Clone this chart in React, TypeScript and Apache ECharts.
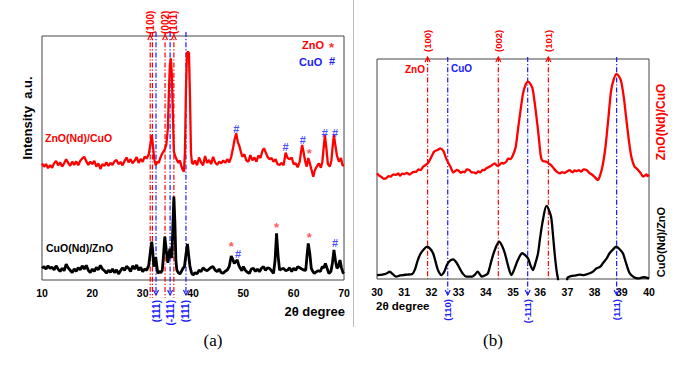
import { useEffect, useRef } from 'react';
import * as echarts from 'echarts';

// ---------- Panel (a): 2θ 10–70 ----------
const leftRed: [number, number][] = [
  [10, 47.8], [10.4, 46.4], [10.8, 47.5], [11.2, 45.8], [11.6, 47.1], [12, 46.0], [12.4, 47.8], [12.8, 48.8],
  [13.2, 47.0], [13.6, 48.2], [14, 46.5], [14.4, 47.8], [14.8, 49.5], [15.2, 48.0], [15.6, 46.8], [16, 48.5],
  [16.4, 47.2], [16.8, 48.6], [17.2, 47.0], [17.6, 48.9], [18, 49.8], [18.4, 50.5], [18.8, 48.6], [19.2, 47.2],
  [19.6, 48.5], [20, 47.5], [20.4, 48.8], [20.8, 46.5], [21.2, 47.8], [21.6, 45.5], [22, 47.5], [22.4, 46.8],
  [22.8, 48.2], [23.2, 46.8], [23.6, 48.0], [24, 47.2], [24.4, 48.6], [24.8, 49.2], [25.2, 47.5], [25.6, 48.4],
  [26, 47.0], [26.4, 48.8], [26.8, 50.2], [27.2, 48.2], [27.6, 49.5], [28, 47.8], [28.4, 48.9], [28.8, 50.4],
  [29.2, 48.0], [29.6, 49.6], [30, 48.4], [30.4, 50.6], [30.8, 49.8], [31.2, 51.5], [31.5, 55.0], [31.8, 59.4],
  [32.0, 56.0], [32.3, 49.5], [32.6, 47.0], [32.9, 48.5], [33.2, 48.0], [33.5, 50.0], [33.8, 51.5], [34.1, 52.5],
  [34.4, 53.5], [34.7, 55.5], [35.0, 62.0], [35.2, 76.0], [35.4, 88.0], [35.6, 90.9], [35.8, 84.0], [36.0, 68.0],
  [36.2, 52.6], [36.5, 50.5], [36.8, 49.2], [37.1, 48.0], [37.4, 49.0], [37.7, 46.5], [38.0, 45.0], [38.2, 44.4],
  [38.4, 52.0], [38.6, 78.0], [38.8, 93.0], [39.0, 93.6], [39.2, 92.9], [39.4, 75.0], [39.6, 52.0], [39.8, 48.0],
  [40.0, 47.5], [40.4, 49.0], [40.8, 47.0], [41.2, 50.2], [41.6, 48.2], [42, 47.0], [42.4, 50.8], [42.8, 48.0],
  [43.2, 49.2], [43.6, 47.5], [44, 50.5], [44.4, 48.2], [44.8, 47.2], [45.2, 48.5], [45.6, 47.8], [46, 49.0],
  [46.4, 48.0], [46.8, 49.5], [47.2, 48.2], [47.6, 50.5], [48.0, 54.6], [48.3, 58.0], [48.6, 60.1], [48.9, 56.5],
  [49.2, 55.0], [49.5, 52.6], [49.8, 50.5], [50.2, 51.5], [50.6, 49.0], [51, 48.5], [51.4, 51.2], [51.8, 49.0],
  [52.2, 50.2], [52.6, 48.5], [53, 51.0], [53.4, 50.0], [53.8, 53.0], [54.1, 54.0], [54.4, 52.5], [54.8, 50.5],
  [55.2, 49.5], [55.6, 50.0], [56, 48.5], [56.4, 49.5], [56.8, 47.5], [57.2, 47.1], [57.6, 48.0], [58.0, 47.0],
  [58.4, 52.2], [58.8, 50.0], [59.2, 49.5], [59.6, 50.2], [60.0, 47.5], [60.4, 47.8], [60.8, 46.2], [61.2, 48.5],
  [61.5, 53.0], [61.7, 55.3], [62.0, 52.0], [62.3, 48.5], [62.6, 46.5], [62.9, 50.0], [63.2, 48.0], [63.5, 45.5],
  [63.9, 42.3], [64.2, 45.0], [64.6, 46.5], [65.0, 47.8], [65.4, 46.0], [65.7, 48.5], [66.0, 55.0], [66.2, 59.4],
  [66.5, 54.0], [66.8, 47.5], [67.2, 46.5], [67.5, 49.0], [67.8, 56.0], [68.0, 59.4], [68.3, 55.0], [68.6, 51.0],
  [69.0, 48.5], [69.4, 50.0], [69.7, 47.0], [70, 47.0],
];

const leftBlack: [number, number][] = [
  [10, 4.8], [10.4, 5.5], [10.8, 4.5], [11.2, 5.8], [11.6, 4.8], [12, 5.2], [12.4, 4.2], [12.8, 5.8],
  [13.2, 4.5], [13.6, 3.5], [14, 4.8], [14.4, 3.8], [14.8, 6.5], [15.2, 5.0], [15.6, 4.0], [16, 3.0],
  [16.4, 4.5], [16.8, 3.6], [17.2, 5.0], [17.6, 4.2], [18, 5.8], [18.4, 4.5], [18.8, 6.0], [19.2, 4.0],
  [19.6, 3.0], [20, 4.5], [20.4, 3.5], [20.8, 5.2], [21.2, 4.2], [21.6, 6.0], [22, 4.5], [22.4, 3.8],
  [22.8, 2.8], [23.2, 4.0], [23.6, 3.2], [24, 4.5], [24.4, 3.0], [24.8, 4.2], [25.2, 2.5], [25.6, 3.8],
  [26, 5.0], [26.4, 4.0], [26.8, 5.6], [27.2, 4.8], [27.6, 3.5], [28, 5.8], [28.4, 4.5], [28.8, 6.2],
  [29.2, 4.0], [29.6, 5.2], [30, 3.4], [30.4, 4.5], [30.8, 4.0], [31.2, 6.0], [31.5, 11.0], [31.8, 15.7],
  [32.0, 12.0], [32.2, 5.5], [32.4, 6.5], [32.6, 9.4], [32.8, 6.0], [33.0, 2.7], [33.3, 3.5], [33.6, 3.0],
  [33.9, 4.0], [34.1, 9.0], [34.4, 17.8], [34.7, 12.0], [35.0, 7.0], [35.2, 10.0], [35.4, 12.8], [35.6, 10.5],
  [35.8, 9.0], [36.0, 22.0], [36.2, 34.2], [36.4, 24.0], [36.6, 8.0], [36.8, 4.0], [37.1, 3.0], [37.4, 2.5],
  [37.7, 3.5], [38.0, 4.8], [38.3, 5.5], [38.6, 10.5], [38.9, 14.8], [39.2, 9.0], [39.4, 5.5], [39.7, 3.0],
  [40.0, 2.0], [40.4, 3.0], [40.8, 2.5], [41.2, 4.0], [41.6, 3.4], [42.0, 5.0], [42.4, 4.2], [42.8, 3.8],
  [43.2, 4.5], [43.6, 5.2], [44.0, 5.5], [44.4, 4.0], [44.8, 3.4], [45.2, 4.5], [45.6, 3.0], [46.0, 2.8],
  [46.4, 3.6], [46.8, 4.1], [47.2, 5.5], [47.6, 9.8], [47.9, 8.5], [48.2, 6.8], [48.5, 7.5], [48.8, 8.2],
  [49.1, 6.0], [49.4, 4.8], [49.7, 3.8], [50.0, 5.5], [50.4, 4.0], [50.8, 3.2], [51.2, 2.7], [51.6, 4.5],
  [52.0, 4.8], [52.4, 3.5], [52.8, 4.5], [53.2, 3.4], [53.6, 4.8], [54.0, 5.5], [54.4, 4.0], [54.8, 5.0],
  [55.2, 4.8], [55.6, 3.8], [56.0, 2.7], [56.3, 8.0], [56.6, 19.1], [56.9, 10.0], [57.2, 4.1], [57.6, 4.5],
  [58.0, 4.8], [58.4, 3.8], [58.8, 4.1], [59.2, 5.0], [59.6, 3.5], [60.0, 4.8], [60.4, 4.0], [60.8, 5.5],
  [61.2, 5.0], [61.6, 4.5], [62.0, 4.1], [62.4, 4.0], [62.7, 11.0], [62.9, 15.0], [63.2, 11.0], [63.5, 4.8],
  [63.8, 3.5], [64.1, 2.7], [64.5, 3.4], [64.9, 3.8], [65.3, 3.5], [65.7, 5.5], [66.0, 5.0], [66.3, 6.8],
  [66.6, 5.0], [67.0, 2.7], [67.4, 3.5], [67.7, 7.0], [68.0, 12.3], [68.3, 8.0], [68.6, 4.8], [68.9, 5.5],
  [69.2, 8.2], [69.5, 5.0], [69.8, 3.0], [70.0, 2.7],
];

const leftHash: [number, number][] = [[48.6, 61.8], [58.4, 54.6], [61.8, 57.4], [66.2, 60.1], [68.2, 60.1], [48.95, 10.5], [68.2, 15.3]];
const leftStar: [number, number][] = [[63.1, 51.9], [47.6, 13.7], [56.6, 21.6], [63.1, 17.5]];

const leftZnOLines = [31.5, 31.95, 34.45, 36.2];
const leftZnOLabels = ['(100)', '', '(002)', '(101)'];
const leftCuOLines = [32.65, 35.45, 38.6];
const leftCuOLabels = ['(111)', '(-111)', '(111)'];

// ---------- Panel (b): 2θ 30–40 ----------
const rightRed: [number, number][] = [
  [30.0, 48.0], [30.08, 47.0], [30.15, 46.5], [30.25, 45.5], [30.34, 45.8], [30.42, 46.8], [30.5, 46.5], [30.6, 47.6],
  [30.7, 47.3], [30.78, 48.0], [30.85, 47.0], [30.93, 47.9], [31.0, 47.7], [31.1, 48.2], [31.2, 47.5], [31.32, 48.6],
  [31.45, 48.8], [31.52, 49.8], [31.6, 49.5], [31.7, 51.1], [31.87, 52.6], [32.0, 55.5], [32.1, 57.9], [32.22, 58.6],
  [32.33, 59.4], [32.45, 58.0], [32.52, 55.5], [32.6, 53.3], [32.72, 50.5], [32.8, 48.4], [32.85, 48.8], [32.93, 49.6],
  [33.0, 49.2], [33.08, 48.3], [33.15, 48.8], [33.22, 48.5], [33.3, 49.8], [33.4, 49.5], [33.48, 48.4], [33.55, 48.5],
  [33.65, 48.0], [33.72, 48.9], [33.8, 48.5], [33.88, 49.6], [33.95, 49.5], [34.02, 50.4], [34.1, 50.8], [34.2, 51.5],
  [34.33, 52.6], [34.42, 51.4], [34.5, 51.8], [34.58, 52.8], [34.65, 52.5], [34.75, 53.3], [34.82, 54.7], [34.9, 54.5],
  [35.0, 56.4], [35.1, 60.0], [35.18, 67.7], [35.27, 76.0], [35.37, 84.4], [35.47, 88.5], [35.55, 89.7], [35.65, 88.5],
  [35.73, 85.9], [35.83, 77.0], [35.92, 67.7], [36.0, 58.0], [36.04, 54.8], [36.1, 53.6], [36.15, 53.5], [36.23, 53.3],
  [36.32, 52.4], [36.4, 51.8], [36.48, 50.6], [36.55, 49.5], [36.63, 48.6], [36.72, 48.0], [36.8, 48.6], [36.9, 48.2],
  [37.0, 49.0], [37.08, 49.5], [37.15, 48.8], [37.2, 48.5], [37.27, 49.4], [37.33, 49.0], [37.42, 49.5], [37.5, 48.8],
  [37.6, 49.8], [37.7, 49.5], [37.8, 48.3], [37.9, 47.5], [38.0, 46.4], [38.12, 45.0], [38.2, 47.0], [38.3, 51.8],
  [38.4, 60.0], [38.5, 72.3], [38.6, 85.0], [38.68, 89.7], [38.8, 93.2], [38.9, 92.0], [38.98, 89.7], [39.08, 82.0],
  [39.17, 72.3], [39.27, 62.0], [39.35, 55.6], [39.47, 51.0], [39.55, 50.2], [39.6, 49.5], [39.7, 48.0], [39.78, 46.5],
  [39.85, 47.0], [39.9, 47.5], [39.95, 46.8], [40.0, 47.3],
];

const rightBlack: [number, number][] = [
  [30.0, 1.8], [30.2, 2.0], [30.35, 2.5], [30.47, 3.3], [30.58, 2.2], [30.7, 1.1], [30.85, 1.6], [30.96, 1.8],
  [31.1, 2.0], [31.3, 2.3], [31.4, 4.5], [31.5, 8.6], [31.6, 11.5], [31.7, 13.2], [31.84, 14.7], [31.95, 13.8],
  [32.06, 11.7], [32.15, 8.0], [32.24, 4.1], [32.37, 1.8], [32.48, 3.5], [32.6, 7.1], [32.8, 8.9], [32.92, 7.5],
  [33.04, 4.8], [33.15, 2.5], [33.28, 1.1], [33.5, 1.1], [33.6, 2.0], [33.7, 3.3], [33.78, 2.2], [33.85, 1.1],
  [34.0, 1.8], [34.08, 2.6], [34.2, 8.0], [34.33, 13.2], [34.49, 17.0], [34.6, 15.0], [34.7, 11.7], [34.82, 6.0],
  [34.94, 1.8], [35.05, 4.5], [35.18, 8.6], [35.34, 11.7], [35.45, 10.8], [35.55, 9.5], [35.65, 6.0], [35.73, 4.1],
  [35.82, 7.0], [35.92, 11.7], [36.0, 19.0], [36.1, 26.8], [36.23, 33.2], [36.3, 32.0], [36.4, 28.3], [36.47, 20.0],
  [36.53, 11.7], [36.6, 4.0], [36.65, 0.3], [36.75, -8], [36.95, -8], [37.0, 0.5], [37.08, 1.1], [37.25, 1.5],
  [37.45, 2.0], [37.6, 1.8], [37.82, 2.6], [37.95, 3.5], [38.06, 4.8], [38.2, 5.5], [38.3, 7.1], [38.45, 9.5],
  [38.55, 11.7], [38.68, 13.5], [38.8, 14.7], [38.92, 13.5], [39.04, 11.7], [39.15, 7.5], [39.29, 2.6], [39.45, 0.8],
  [39.6, 0.3], [39.8, 0.8], [40.0, 0.3],
];

const rightZnOLines = [31.86, 34.46, 36.3];
const rightZnOLabels = ['(100)', '(002)', '(101)'];
const rightCuOLines = [32.6, 35.54, 38.81];
const rightCuOLabels = ['(110)', '(-111)', '(111)'];

const SANS = '"Liberation Sans", Arial, Helvetica, sans-serif';
const RED = '#ff0000';
const BLUE = '#1a1aff';
const DASH = [5, 2, 1.2, 2];

type RefCfg = {
  labels: string[];
  color: string;
  dir: 'up' | 'down';
  topExt: number;
  bottomExt: number;
  arrowTipExt: number;
  labelGap: number;
  fontSize: number;
};

function makeRefRender(cfg: RefCfg) {
  return (params: any, api: any) => {
    const x = api.value(0);
    const p0 = api.coord([x, 0]);
    const p1 = api.coord([x, 100]);
    const px = p0[0];
    const gBottom = p0[1];
    const gTop = p1[1];
    const label = cfg.labels[params.dataIndex] || '';
    const children: any[] = [
      {
        type: 'line',
        shape: { x1: px, y1: gTop - cfg.topExt, x2: px, y2: gBottom + cfg.bottomExt },
        style: { stroke: cfg.color, lineWidth: 1.2, lineDash: DASH },
      },
    ];
    if (label) {
      if (cfg.dir === 'up') {
        const tip = gTop - cfg.arrowTipExt;
        children.push({
          type: 'polyline',
          shape: { points: [[px - 2.5, tip + 5], [px, tip], [px + 2.5, tip + 5]] },
          style: { stroke: cfg.color, lineWidth: 1.2, fill: null },
        });
        children.push({
          type: 'text',
          x: px,
          y: tip - cfg.labelGap,
          rotation: Math.PI / 2,
          style: {
            text: label, fill: cfg.color, fontSize: cfg.fontSize, fontWeight: 'bold', fontFamily: SANS,
            align: 'left', verticalAlign: 'middle',
          },
        });
      } else {
        const tip = gBottom + cfg.arrowTipExt;
        children.push({
          type: 'polyline',
          shape: { points: [[px - 2.5, tip - 5], [px, tip], [px + 2.5, tip - 5]] },
          style: { stroke: cfg.color, lineWidth: 1.2, fill: null },
        });
        children.push({
          type: 'text',
          x: px,
          y: tip + cfg.labelGap,
          rotation: Math.PI / 2,
          style: {
            text: label, fill: cfg.color, fontSize: cfg.fontSize, fontWeight: 'bold', fontFamily: SANS,
            align: 'right', verticalAlign: 'middle',
          },
        });
      }
    }
    return { type: 'group', children };
  };
}

function markerSeries(data: [number, number][], idx: number, char: string, color: string, size: number) {
  return {
    type: 'scatter',
    xAxisIndex: idx,
    yAxisIndex: idx,
    data,
    symbolSize: 1,
    itemStyle: { color: 'rgba(255,255,255,0)' },
    silent: true,
    z: 5,
    label: {
      show: true,
      position: 'inside',
      formatter: char,
      color,
      fontSize: size,
      fontWeight: 'bold',
      fontFamily: SANS,
    },
  };
}

const axisLabelStyle = { color: '#000', fontWeight: 'bold', fontSize: 10.5, fontFamily: SANS, margin: 7 };

export default function App() {
  const ref = useRef<HTMLDivElement>(null);
  useEffect(() => {
    if (!ref.current) return;
    const chart = echarts.init(ref.current, null, { renderer: 'svg' });
    const txt = (text: string, x: number, y: number, o: any = {}) => ({
      type: 'text',
      x,
      y,
      rotation: o.rotation || 0,
      silent: true,
      style: {
        text,
        fill: o.color || '#000',
        fontSize: o.size || 10,
        fontWeight: o.weight || 'bold',
        fontFamily: o.family || SANS,
        align: o.align || 'left',
        verticalAlign: 'middle',
      },
    });
    chart.setOption({
      animation: false,
      grid: [
        { left: 42, top: 36, width: 302, height: 244, show: true, borderColor: '#444', borderWidth: 1 },
        { left: 377, top: 59, width: 272, height: 220, show: true, borderColor: '#444', borderWidth: 1 },
      ],
      xAxis: [
        {
          gridIndex: 0, type: 'value', min: 10, max: 70, interval: 10,
          axisLine: { show: false }, axisTick: { show: false }, splitLine: { show: false },
          axisLabel: axisLabelStyle,
        },
        {
          gridIndex: 1, type: 'value', min: 30, max: 40, interval: 1,
          axisLine: { show: false }, axisTick: { show: false }, splitLine: { show: false },
          axisLabel: axisLabelStyle,
        },
      ],
      yAxis: [
        { gridIndex: 0, type: 'value', min: 0, max: 100, show: false, splitLine: { show: false } },
        { gridIndex: 1, type: 'value', min: 0, max: 100, show: false, splitLine: { show: false } },
      ],
      series: [
        {
          type: 'custom', xAxisIndex: 0, yAxisIndex: 0, silent: true, z: 1,
          data: leftZnOLines.map((x) => [x, 0]),
          renderItem: makeRefRender({ labels: leftZnOLabels, color: RED, dir: 'up', topExt: 4, bottomExt: 18, arrowTipExt: 1, labelGap: 1, fontSize: 10 }),
        },
        {
          type: 'custom', xAxisIndex: 0, yAxisIndex: 0, silent: true, z: 1,
          data: leftCuOLines.map((x) => [x, 0]),
          renderItem: makeRefRender({ labels: leftCuOLabels, color: BLUE, dir: 'down', topExt: 4, bottomExt: 15, arrowTipExt: 15, labelGap: 5, fontSize: 10 }),
        },
        {
          type: 'custom', xAxisIndex: 1, yAxisIndex: 1, silent: true, z: 1,
          data: rightZnOLines.map((x) => [x, 0]),
          renderItem: makeRefRender({ labels: rightZnOLabels, color: RED, dir: 'up', topExt: 2, bottomExt: 0, arrowTipExt: 2, labelGap: 5, fontSize: 9.5 }),
        },
        {
          type: 'custom', xAxisIndex: 1, yAxisIndex: 1, silent: true, z: 1,
          data: rightCuOLines.map((x) => [x, 0]),
          renderItem: makeRefRender({ labels: rightCuOLabels, color: BLUE, dir: 'down', topExt: 2, bottomExt: 16, arrowTipExt: 16, labelGap: 4, fontSize: 9.5 }),
        },
        {
          type: 'line', xAxisIndex: 0, yAxisIndex: 0, data: leftRed, symbol: 'none', z: 3,
          lineStyle: { color: RED, width: 2.3 },
        },
        {
          type: 'line', xAxisIndex: 0, yAxisIndex: 0, data: leftBlack, symbol: 'none', z: 3,
          lineStyle: { color: '#000', width: 2.8 },
        },
        {
          type: 'line', xAxisIndex: 1, yAxisIndex: 1, data: rightRed, symbol: 'none', smooth: 0.2, z: 3,
          lineStyle: { color: RED, width: 2.3 },
        },
        {
          type: 'line', xAxisIndex: 1, yAxisIndex: 1, data: rightBlack, symbol: 'none', smooth: 0.3, z: 3,
          lineStyle: { color: '#000', width: 2.3 },
        },
        markerSeries(leftHash, 0, '#', BLUE, 11),
        markerSeries(leftStar, 0, '*', '#ff3030', 13),
      ],
      graphic: [
        { type: 'line', silent: true, shape: { x1: 353.5, y1: 0, x2: 353.5, y2: 327 }, style: { stroke: '#bbbbbb', lineWidth: 1 } },
        txt('Intensity  a.u.', 27, 118, { size: 13, rotation: Math.PI / 2, align: 'center' }),
        txt('ZnO(Nd)/CuO', 45, 138, { color: RED, size: 10.5 }),
        txt('CuO(Nd)/ZnO', 46, 248, { size: 10.5 }),
        txt('ZnO', 302, 45, { color: RED, size: 11 }),
        txt('*', 329, 47, { color: '#ff3030', size: 13 }),
        txt('CuO', 299, 62, { color: BLUE, size: 11 }),
        txt('#', 329, 61, { color: BLUE, size: 11 }),
        txt('2θ degree', 345, 311, { size: 13, align: 'right' }),
        txt('2θ degree', 376, 306, { size: 11.5 }),
        txt('ZnO', 425, 69, { color: RED, size: 10, align: 'right' }),
        txt('CuO', 451, 68, { color: BLUE, size: 10 }),
        txt('ZnO(Nd)/CuO', 661, 122, { color: RED, size: 12, rotation: Math.PI / 2, align: 'center' }),
        txt('CuO(Nd)/ZnO', 661, 242, { size: 11, rotation: Math.PI / 2, align: 'center' }),
        txt('(a)', 213, 340, { size: 17, weight: 'normal', family: '"Liberation Serif", "Times New Roman", serif', align: 'center' }),
        txt('(b)', 493, 340, { size: 17, weight: 'normal', family: '"Liberation Serif", "Times New Roman", serif', align: 'center' }),
      ],
    });
    return () => chart.dispose();
  }, []);
  return <div ref={ref} style={{ position: 'absolute', left: 0, top: 0, width: 685, height: 368 }} />;
}
